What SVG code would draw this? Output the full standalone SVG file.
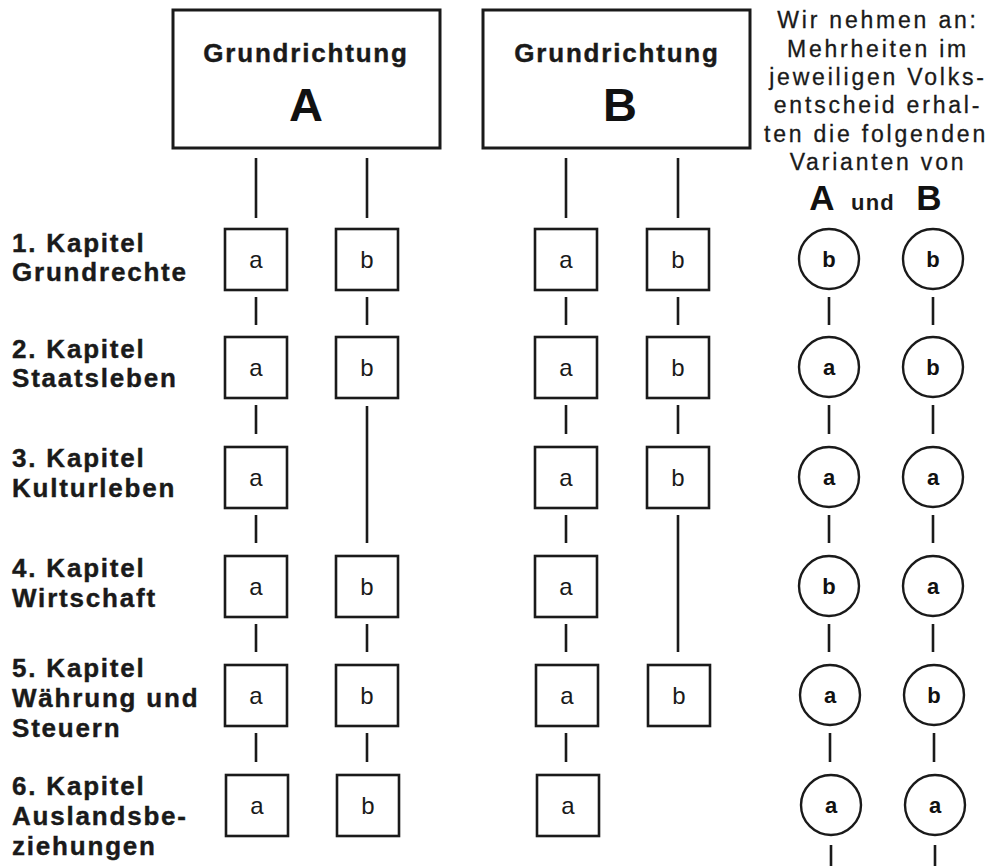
<svg xmlns="http://www.w3.org/2000/svg" width="1000" height="866" viewBox="0 0 1000 866">
<style>
.box{fill:#fff;stroke:#1a1a1a;stroke-width:3}
.sq{fill:#fff;stroke:#1a1a1a;stroke-width:2.6}
.ci{fill:#fff;stroke:#1a1a1a;stroke-width:2.4}
.ln{stroke:#1a1a1a;stroke-width:2.6;fill:none}
.hd{font-family:"Liberation Sans",Arial,sans-serif;font-weight:bold;font-size:26px;letter-spacing:1.8px;fill:#1a1a1a;stroke:#1a1a1a;stroke-width:0.4;text-anchor:middle}
.big{font-family:"Liberation Sans",Arial,sans-serif;font-weight:bold;font-size:47px;fill:#111;text-anchor:middle}
.lbl{font-family:"Liberation Sans",Arial,sans-serif;font-weight:bold;font-size:26px;letter-spacing:1.8px;fill:#1a1a1a;stroke:#1a1a1a;stroke-width:0.4}
.note{font-family:"Liberation Sans",Arial,sans-serif;font-size:23px;letter-spacing:2.8px;fill:#1a1a1a;stroke:#1a1a1a;stroke-width:0.3;text-anchor:middle}
.sqt{font-family:"Liberation Sans",Arial,sans-serif;font-size:24px;fill:#1a1a1a;text-anchor:middle}
.cit{font-family:"Liberation Sans",Arial,sans-serif;font-weight:bold;font-size:22px;fill:#111;text-anchor:middle}
</style>
<rect width="1000" height="866" fill="#fff"/>

<g id="connectors">
  <line class="ln" x1="256" y1="158" x2="256" y2="218"/>
  <line class="ln" x1="367" y1="158" x2="367" y2="218"/>
  <line class="ln" x1="566" y1="158" x2="566" y2="218"/>
  <line class="ln" x1="678" y1="158" x2="678" y2="218"/>
  <line class="ln" x1="256" y1="297" x2="256" y2="325"/>
  <line class="ln" x1="256" y1="405" x2="256" y2="434"/>
  <line class="ln" x1="256" y1="515" x2="256" y2="543"/>
  <line class="ln" x1="256" y1="624" x2="256" y2="652"/>
  <line class="ln" x1="256" y1="733" x2="256" y2="762"/>
  <line class="ln" x1="367" y1="297" x2="367" y2="325"/>
  <line class="ln" x1="367" y1="406" x2="367" y2="543"/>
  <line class="ln" x1="367" y1="624" x2="367" y2="652"/>
  <line class="ln" x1="367" y1="733" x2="367" y2="762"/>
  <line class="ln" x1="566" y1="297" x2="566" y2="325"/>
  <line class="ln" x1="566" y1="405" x2="566" y2="434"/>
  <line class="ln" x1="566" y1="515" x2="566" y2="543"/>
  <line class="ln" x1="566" y1="624" x2="566" y2="652"/>
  <line class="ln" x1="566" y1="733" x2="566" y2="762"/>
  <line class="ln" x1="678" y1="297" x2="678" y2="325"/>
  <line class="ln" x1="678" y1="405" x2="678" y2="434"/>
  <line class="ln" x1="678" y1="515" x2="678" y2="652"/>
  <line class="ln" x1="829" y1="297" x2="829" y2="325"/>
  <line class="ln" x1="829" y1="405" x2="829" y2="434"/>
  <line class="ln" x1="829" y1="515" x2="829" y2="543"/>
  <line class="ln" x1="829" y1="624" x2="829" y2="652"/>
  <line class="ln" x1="830" y1="733" x2="830" y2="762"/>
  <line class="ln" x1="831" y1="845" x2="831" y2="866"/>
  <line class="ln" x1="933" y1="297" x2="933" y2="325"/>
  <line class="ln" x1="933" y1="405" x2="933" y2="434"/>
  <line class="ln" x1="933" y1="515" x2="933" y2="543"/>
  <line class="ln" x1="933" y1="624" x2="933" y2="652"/>
  <line class="ln" x1="934" y1="733" x2="934" y2="762"/>
  <line class="ln" x1="935" y1="845" x2="935" y2="866"/>
</g>

<g id="headA">
  <rect class="box" x="173" y="10" width="267" height="138"/>
  <text class="hd" x="306" y="62">Grundrichtung</text>
  <text class="big" x="306" y="121">A</text>
</g>
<g id="headB">
  <rect class="box" x="483" y="10" width="267" height="138"/>
  <text class="hd" x="617" y="62">Grundrichtung</text>
  <text class="big" x="620" y="121">B</text>
</g>

<g id="note">
  <text class="note" x="878" y="28">Wir nehmen an:</text>
  <text class="note" x="878" y="57">Mehrheiten im</text>
  <text class="note" x="878" y="85">jeweiligen Volks-</text>
  <text class="note" x="878" y="113">entscheid erhal-</text>
  <text class="note" x="876" y="142">ten die folgenden</text>
  <text class="note" x="878" y="170">Varianten von</text>
  <text font-family="Liberation Sans, Arial, sans-serif" font-weight="bold" font-size="35" fill="#111" x="822" y="210" text-anchor="middle">A</text>
  <text font-family="Liberation Sans, Arial, sans-serif" font-weight="bold" font-size="22" letter-spacing="1.2" fill="#1a1a1a" x="873" y="210" text-anchor="middle">und</text>
  <text font-family="Liberation Sans, Arial, sans-serif" font-weight="bold" font-size="35" fill="#111" x="929" y="210" text-anchor="middle">B</text>
</g>

<g id="labels">
  <g id="label1"><text class="lbl" x="12" y="252">1. Kapitel</text><text class="lbl" x="12" y="281">Grundrechte</text></g>
  <g id="label2"><text class="lbl" x="12" y="358">2. Kapitel</text><text class="lbl" x="12" y="387">Staatsleben</text></g>
  <g id="label3"><text class="lbl" x="12" y="467">3. Kapitel</text><text class="lbl" x="12" y="497">Kulturleben</text></g>
  <g id="label4"><text class="lbl" x="12" y="577">4. Kapitel</text><text class="lbl" x="12" y="607">Wirtschaft</text></g>
  <g id="label5"><text class="lbl" x="12" y="677">5. Kapitel</text><text class="lbl" x="12" y="707">Währung und</text><text class="lbl" x="12" y="737">Steuern</text></g>
  <g id="label6"><text class="lbl" x="12" y="795">6. Kapitel</text><text class="lbl" x="12" y="825">Auslandsbe-</text><text class="lbl" x="12" y="855">ziehungen</text></g>
</g>

<g id="A-a1"><rect class="sq" x="225" y="229" width="62" height="61"/><text class="sqt" x="256" y="268">a</text></g>
<g id="A-b1"><rect class="sq" x="336" y="229" width="62" height="61"/><text class="sqt" x="367" y="268">b</text></g>
<g id="A-a2"><rect class="sq" x="225" y="337" width="62" height="61"/><text class="sqt" x="256" y="376">a</text></g>
<g id="A-b2"><rect class="sq" x="336" y="337" width="62" height="61"/><text class="sqt" x="367" y="376">b</text></g>
<g id="A-a3"><rect class="sq" x="225" y="447" width="62" height="61"/><text class="sqt" x="256" y="486">a</text></g>
<g id="A-a4"><rect class="sq" x="225" y="556" width="62" height="61"/><text class="sqt" x="256" y="595">a</text></g>
<g id="A-b4"><rect class="sq" x="336" y="556" width="62" height="61"/><text class="sqt" x="367" y="595">b</text></g>
<g id="A-a5"><rect class="sq" x="225" y="665" width="62" height="61"/><text class="sqt" x="256" y="704">a</text></g>
<g id="A-b5"><rect class="sq" x="336" y="665" width="62" height="61"/><text class="sqt" x="367" y="704">b</text></g>
<g id="A-a6"><rect class="sq" x="226" y="775" width="62" height="61"/><text class="sqt" x="257" y="814">a</text></g>
<g id="A-b6"><rect class="sq" x="337" y="775" width="62" height="61"/><text class="sqt" x="368" y="814">b</text></g>

<g id="B-a1"><rect class="sq" x="535" y="229" width="62" height="61"/><text class="sqt" x="566" y="268">a</text></g>
<g id="B-b1"><rect class="sq" x="647" y="229" width="62" height="61"/><text class="sqt" x="678" y="268">b</text></g>
<g id="B-a2"><rect class="sq" x="535" y="337" width="62" height="61"/><text class="sqt" x="566" y="376">a</text></g>
<g id="B-b2"><rect class="sq" x="647" y="337" width="62" height="61"/><text class="sqt" x="678" y="376">b</text></g>
<g id="B-a3"><rect class="sq" x="535" y="447" width="62" height="61"/><text class="sqt" x="566" y="486">a</text></g>
<g id="B-b3"><rect class="sq" x="647" y="447" width="62" height="61"/><text class="sqt" x="678" y="486">b</text></g>
<g id="B-a4"><rect class="sq" x="535" y="556" width="62" height="61"/><text class="sqt" x="566" y="595">a</text></g>
<g id="B-a5"><rect class="sq" x="536" y="665" width="62" height="61"/><text class="sqt" x="567" y="704">a</text></g>
<g id="B-b5"><rect class="sq" x="648" y="665" width="62" height="61"/><text class="sqt" x="679" y="704">b</text></g>
<g id="B-a6"><rect class="sq" x="537" y="775" width="62" height="61"/><text class="sqt" x="568" y="814">a</text></g>

<g id="RA1"><circle class="ci" cx="829" cy="259" r="30"/><text class="cit" x="829" y="267">b</text></g>
<g id="RB1"><circle class="ci" cx="933" cy="259" r="30"/><text class="cit" x="933" y="267">b</text></g>
<g id="RA2"><circle class="ci" cx="829" cy="367" r="30"/><text class="cit" x="829" y="375">a</text></g>
<g id="RB2"><circle class="ci" cx="933" cy="367" r="30"/><text class="cit" x="933" y="375">b</text></g>
<g id="RA3"><circle class="ci" cx="829" cy="477" r="30"/><text class="cit" x="829" y="485">a</text></g>
<g id="RB3"><circle class="ci" cx="933" cy="477" r="30"/><text class="cit" x="933" y="485">a</text></g>
<g id="RA4"><circle class="ci" cx="829" cy="586" r="30"/><text class="cit" x="829" y="594">b</text></g>
<g id="RB4"><circle class="ci" cx="933" cy="586" r="30"/><text class="cit" x="933" y="594">a</text></g>
<g id="RA5"><circle class="ci" cx="830" cy="695" r="30"/><text class="cit" x="830" y="703">a</text></g>
<g id="RB5"><circle class="ci" cx="934" cy="695" r="30"/><text class="cit" x="934" y="703">b</text></g>
<g id="RA6"><circle class="ci" cx="831" cy="805" r="30"/><text class="cit" x="831" y="813">a</text></g>
<g id="RB6"><circle class="ci" cx="935" cy="805" r="30"/><text class="cit" x="935" y="813">a</text></g>
</svg>
